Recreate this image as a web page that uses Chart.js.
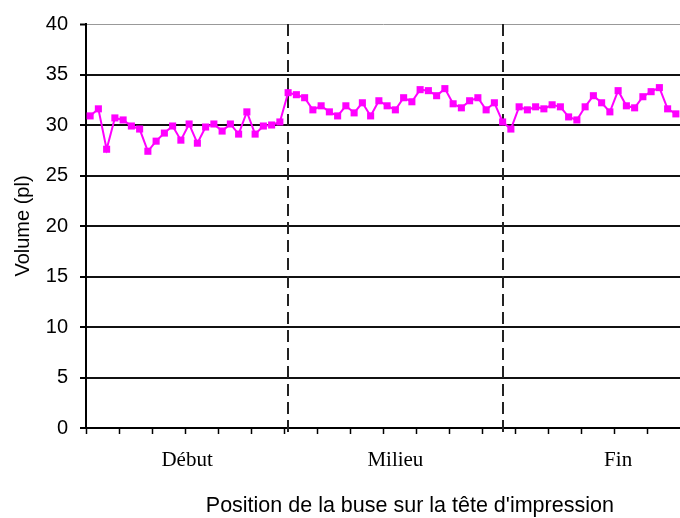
<!DOCTYPE html>
<html lang="fr">
<head>
<meta charset="utf-8">
<title>Volume des gouttes par buse</title>
<script src="https://cdn.jsdelivr.net/npm/chart.js@4.4.1/dist/chart.umd.min.js"></script>
<style>
    html, body { margin: 0; padding: 0; background: #fff; overflow: hidden; }
    canvas { display: block; }
</style>
</head>
<body>
<canvas id="volumeChart" width="680" height="518"></canvas>
<script>
// Volume mesuré pour chaque buse visible (pl)
const volumes = [
    30.9, 31.6, 27.6, 30.7, 30.5, 29.9, 29.6, 27.4, 28.4, 29.2, 29.9, 28.5,
    30.1, 28.2, 29.8, 30.1, 29.4, 30.1, 29.1, 31.3, 29.1, 29.9, 30.0, 30.3,
    33.2, 33.0, 32.7, 31.5, 31.9, 31.3, 30.9, 31.9, 31.2, 32.2, 30.9, 32.4,
    31.9, 31.5, 32.7, 32.3, 33.5, 33.4, 32.9, 33.6, 32.1, 31.7, 32.4, 32.7,
    31.5, 32.2, 30.3, 29.6, 31.8, 31.5, 31.8, 31.6, 32.0, 31.8, 30.8, 30.5,
    31.8, 32.9, 32.2, 31.3, 33.4, 31.9, 31.7, 32.8, 33.3, 33.7, 31.6, 31.1
];

// Numéros des buses (catégories)
const buses = volumes.map((v, i) => String(i + 1));

// Axe Y
const yMin = 0;
const yMax = 40;
const yStep = 5;

// Zones de la tête d'impression (bornes en numéro de buse)
const zones = ['Début', 'Milieu', 'Fin'];
const zoneBornes = [0, 24, 50, 78];

const titreX = "Position de la buse sur la tête d'impression";
const titreY = 'Volume (pl)';

// Séparateurs pointillés, noms des zones et titres des axes
const decorations = {
    id: 'decorations',
    beforeDatasetsDraw(chart) {
        const ctx = chart.ctx;
        const x = chart.scales.x;
        const area = chart.chartArea;
        ctx.save();
        ctx.strokeStyle = '#222';
        ctx.lineWidth = 2;
        ctx.setLineDash([12, 6]);
        zoneBornes.slice(1, -1).forEach(b => {
            const px = Math.round(x.getPixelForValue(b));
            ctx.beginPath();
            ctx.moveTo(px, area.top);
            ctx.lineTo(px, area.bottom + 7);
            ctx.stroke();
        });
        ctx.restore();
    },
    afterDraw(chart) {
        const ctx = chart.ctx;
        const x = chart.scales.x;
        const area = chart.chartArea;
        const bornePx = b => b === 0 ? x.left : x.getPixelForValue(b);

        ctx.save();
        ctx.fillStyle = '#000';
        ctx.textAlign = 'center';
        ctx.textBaseline = 'alphabetic';

        ctx.font = '21px "Liberation Serif", "Times New Roman", serif';
        zones.forEach((zone, i) => {
            const cx = (bornePx(zoneBornes[i]) + bornePx(zoneBornes[i + 1])) / 2;
            ctx.fillText(zone, cx, area.bottom + 38);
        });

        ctx.font = '21.5px "Liberation Sans", Arial, sans-serif';
        const cxTitre = (bornePx(zoneBornes[0]) + bornePx(zoneBornes[zoneBornes.length - 1])) / 2;
        ctx.fillText(titreX, cxTitre, area.bottom + 84);

        ctx.font = '20px "Liberation Sans", Arial, sans-serif';
        ctx.textBaseline = 'middle';
        ctx.translate(23, (area.top + area.bottom) / 2);
        ctx.rotate(-Math.PI / 2);
        ctx.fillText(titreY, 0, 0);
        ctx.restore();
    }
};

new Chart(document.getElementById('volumeChart'), {
    type: 'line',
    data: {
        labels: buses,
        datasets: [{
            data: volumes,
            borderColor: '#ff00ff',
            backgroundColor: '#ff00ff',
            borderWidth: 2,
            tension: 0,
            pointStyle: 'rect',
            pointRadius: 5,
            pointHoverRadius: 5,
            pointBorderWidth: 0,
            pointBackgroundColor: '#ff00ff'
        }]
    },
    options: {
        responsive: false,
        animation: false,
        layout: {
            autoPadding: false,
            padding: { top: 20, right: 0, bottom: 84, left: 0 }
        },
        plugins: {
            legend: { display: false },
            tooltip: { enabled: false }
        },
        scales: {
            x: {
                type: 'category',
                offset: true,
                border: { color: '#000', width: 2 },
                grid: {
                    offset: true,
                    drawOnChartArea: false,
                    drawTicks: true,
                    tickLength: 6,
                    tickWidth: 1.5,
                    tickColor: c => c.index % 4 === 0 ? '#000' : 'rgba(0,0,0,0)'
                },
                ticks: { display: false, autoSkip: false }
            },
            y: {
                min: yMin,
                max: yMax,
                afterFit(scale) { scale.width = 86; },
                border: { color: '#000', width: 2 },
                grid: {
                    color: c => c.tick && c.tick.value === yMax ? '#999' : '#111',
                    lineWidth: c => c.tick && c.tick.value === yMax ? 1 : 2,
                    tickColor: '#000',
                    tickWidth: 2,
                    tickLength: 6
                },
                ticks: {
                    stepSize: yStep,
                    color: '#000',
                    padding: 12,
                    font: { family: '"Liberation Sans", Arial, sans-serif', size: 20 }
                }
            }
        }
    },
    plugins: [decorations]
});
</script>
</body>
</html>
